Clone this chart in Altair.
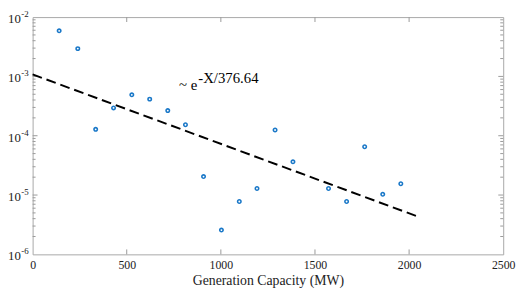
import altair as alt
import pandas as pd

# ---- data ----
cap_mw = [141, 240, 335, 430, 527, 622, 718, 812, 908, 1003,
          1098, 1192, 1288, 1383, 1572, 1668, 1764, 1860, 1956]
prob = [5.86e-3, 2.94e-3, 1.28e-4, 2.94e-4, 4.89e-4, 4.14e-4, 2.65e-4, 1.53e-4,
        2.05e-5, 2.57e-6, 7.78e-6, 1.29e-5, 1.25e-4, 3.63e-5, 1.29e-5, 7.78e-6,
        6.52e-5, 1.03e-5, 1.55e-5]

fit_x = [0, 2050]
fit_y = [1.08e-3, 4.3e-6]

x_ticks = [0, 500, 1000, 1500, 2000, 2500]
y_major = [1e-6, 1e-5, 1e-4, 1e-3, 1e-2]
y_exps = ["-6", "-5", "-4", "-3", "-2"]
minor_mult = [2, 3, 4, 5, 6, 7, 8, 9]

annot_x = [875]
annot_y = [5.9e-4]
annot_base = ["~ e"]
annot_sup = ["-X/376.64"]

W, H = 478, 241
FONT = "Liberation Serif, Times New Roman, Times, serif"
BLUE = "#1a78c8"
TICK = "#9a9a9a"

pts = pd.DataFrame({"x": cap_mw, "y": prob})
fit = pd.DataFrame({"x": fit_x, "y": fit_y})
ylab = pd.DataFrame({"y": y_major, "e": y_exps})
ymin = pd.DataFrame({"y": [m * 10.0 ** e for e in range(-6, -2) for m in minor_mult]})
xmaj = pd.DataFrame({"x": x_ticks[1:-1]})
ymaj_inner = pd.DataFrame({"y": y_major[1:-1]})
ann = pd.DataFrame({"x": annot_x, "y": annot_y, "b": annot_base, "s": annot_sup})

xs = alt.Scale(domain=[0, 2500], nice=False, zero=False)
ys = alt.Scale(type="log", domain=[1e-6, 1e-2], nice=False)

xaxis = alt.Axis(values=x_ticks, format="d", domain=False, ticks=False, grid=False,
                 labelFont=FONT, labelFontSize=12, labelColor="#222",
                 labelPadding=5, title="Generation Capacity (MW)",
                 titleFont=FONT, titleFontSize=14, titleFontWeight="normal",
                 titleColor="#222", titlePadding=4, labelFlush=False)

X = alt.X("x:Q", scale=xs, axis=xaxis)
Y = alt.Y("y:Q", scale=ys, axis=None)

points = alt.Chart(pts).mark_point(shape="circle", filled=False, size=12,
                                   strokeWidth=1.6, color=BLUE, opacity=1).encode(x=X, y=Y)

line = alt.Chart(fit).mark_line(color="black", strokeWidth=2,
                                strokeDash=[10, 5]).encode(x=X, y=Y)

# tick marks (inward, on all four sides)
left_major = alt.Chart(ymaj_inner).mark_rule(color=TICK, strokeWidth=1).encode(
    y=Y, x=alt.value(0), x2=alt.value(5))
right_major = alt.Chart(ymaj_inner).mark_rule(color=TICK, strokeWidth=1).encode(
    y=Y, x=alt.value(W), x2=alt.value(W - 5))
left_minor = alt.Chart(ymin).mark_rule(color=TICK, strokeWidth=1).encode(
    y=Y, x=alt.value(0), x2=alt.value(3))
right_minor = alt.Chart(ymin).mark_rule(color=TICK, strokeWidth=1).encode(
    y=Y, x=alt.value(W), x2=alt.value(W - 3))
bottom_major = alt.Chart(xmaj).mark_rule(color=TICK, strokeWidth=1).encode(
    x=X, y=alt.value(H), y2=alt.value(H - 5))
top_major = alt.Chart(xmaj).mark_rule(color=TICK, strokeWidth=1).encode(
    x=X, y=alt.value(0), y2=alt.value(5))

# y tick labels as 10^exp
lab10 = alt.Chart(ylab).mark_text(font=FONT, fontSize=13, align="right",
                                  baseline="middle", dy=2, color="#222").encode(
    y=Y, x=alt.value(-12), text=alt.value("10"))
labexp = alt.Chart(ylab).mark_text(font=FONT, fontSize=9, align="left",
                                   baseline="middle", dy=-3, color="#222").encode(
    y=Y, x=alt.value(-11.5), text="e:N")

# annotation
ann_base = alt.Chart(ann).mark_text(font=FONT, fontSize=15, align="right",
                                    baseline="alphabetic", color="black").encode(
    x=X, y=Y, text="b:N")
ann_sup = alt.Chart(ann).mark_text(font=FONT, fontSize=15, align="left",
                                   baseline="alphabetic", dx=1, dy=-7.5,
                                   color="black").encode(x=X, y=Y, text="s:N")

chart = alt.layer(
    left_minor, right_minor, left_major, right_major, bottom_major, top_major,
    line, points, lab10, labexp, ann_base, ann_sup
).properties(
    width=W, height=H,
    autosize=alt.AutoSizeParams(type="none"),
    padding={"left": 25, "top": 7, "right": 14, "bottom": 36},
    background="white",
).configure(font=FONT).configure_view(stroke="#a8a8a8", strokeWidth=1)

chart.save("out.html", embed_options={"renderer": "svg", "actions": False})
